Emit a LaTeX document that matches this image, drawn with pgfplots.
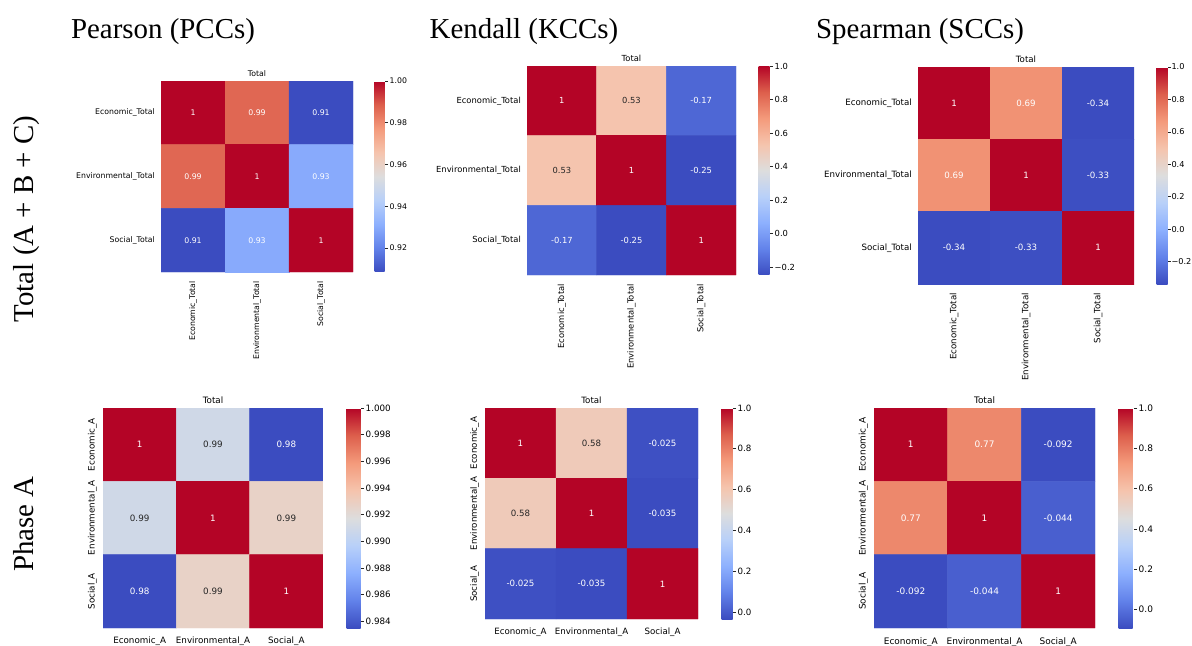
\documentclass[border=0pt]{standalone}
\usepackage{pgfplots}
\pgfplotsset{compat=1.18}
\usepackage{pgfplotstable}
\usepackage{fontspec}
\setmainfont{Liberation Serif}
\newfontfamily\djv{DejaVu Sans}
\definecolor{dk}{RGB}{38,38,38}

% correlation matrices: x = column, y = row, v = coefficient,
% lw / ld = printed value in white / dark text
\pgfplotstableread{
x y v lw ld
0 0 1 1 {}
1 0 0.987 0.99 {}
2 0 0.9085 0.91 {}
0 1 0.987 0.99 {}
1 1 1 1 {}
2 1 0.930 0.93 {}
0 2 0.9085 0.91 {}
1 2 0.930 0.93 {}
2 2 1 1 {}
}\pearsonTotal
\pgfplotstableread{
x y v lw ld
0 0 1 1 {}
1 0 0.53 {} 0.53
2 0 -0.17 -0.17 {}
0 1 0.53 {} 0.53
1 1 1 1 {}
2 1 -0.248 -0.25 {}
0 2 -0.17 -0.17 {}
1 2 -0.248 -0.25 {}
2 2 1 1 {}
}\kendallTotal
\pgfplotstableread{
x y v lw ld
0 0 1 1 {}
1 0 0.69 0.69 {}
2 0 -0.338 -0.34 {}
0 1 0.69 0.69 {}
1 1 1 1 {}
2 1 -0.33 -0.33 {}
0 2 -0.338 -0.34 {}
1 2 -0.33 -0.33 {}
2 2 1 1 {}
}\spearmanTotal
\pgfplotstableread{
x y v lw ld
0 0 1 1 {}
1 0 0.991 {} 0.99
2 0 0.9835 0.98 {}
0 1 0.991 {} 0.99
1 1 1 1 {}
2 1 0.9927 {} 0.99
0 2 0.9835 0.98 {}
1 2 0.9927 {} 0.99
2 2 1 1 {}
}\pearsonA
\pgfplotstableread{
x y v lw ld
0 0 1 1 {}
1 0 0.58 {} 0.58
2 0 -0.025 -0.025 {}
0 1 0.58 {} 0.58
1 1 1 1 {}
2 1 -0.035 -0.035 {}
0 2 -0.025 -0.025 {}
1 2 -0.035 -0.035 {}
2 2 1 1 {}
}\kendallA
\pgfplotstableread{
x y v lw ld
0 0 1 1 {}
1 0 0.77 0.77 {}
2 0 -0.092 -0.092 {}
0 1 0.77 0.77 {}
1 1 1 1 {}
2 1 -0.044 -0.044 {}
0 2 -0.092 -0.092 {}
1 2 -0.044 -0.044 {}
2 2 1 1 {}
}\spearmanA

\pgfplotsset{
  colormap={coolwarm}{rgb255=(59,76,192) rgb255=(98,130,234) rgb255=(141,176,254)
    rgb255=(184,208,249) rgb255=(221,221,221) rgb255=(245,196,173)
    rgb255=(244,154,123) rgb255=(221,95,76) rgb255=(180,4,38)},
  fs/.style={font=\djv\fontsize{#1}{#1}\selectfont,
    tick label style={font=\djv\fontsize{#1}{#1}\selectfont},
    title style={font=\djv\fontsize{#1}{#1}\selectfont},
    every node near coord/.append style={font=\djv\fontsize{#1}{#1}\selectfont}},
  heat/.style={scale only axis, anchor=north west,
    xmin=-0.5, xmax=2.5, ymin=-0.5, ymax=2.5, y dir=reverse,
    enlargelimits=false, xtick={0,1,2}, ytick={0,1,2},
    axis line style={draw=none}, major tick length=0pt,
    title=Total, title style={inner sep=0pt, yshift=-2bp},
    colormap name=coolwarm, colorbar, point meta max=1},
  cbar/.style n args={3}{colorbar style={at={(parent axis.north east)}, anchor=north west,
    xshift=#1, width=#2, fs=#3, axis line style={draw=none},
    tick align=outside, major tick length=3.5bp,
    tick style={draw=dk, line width=0.6pt},
    ytick pos=right, yticklabel pos=right,
    yticklabel style={inner sep=1.5bp}}},
  toprow/.style={
    xticklabels={Economic\_Total,Environmental\_Total,Social\_Total},
    yticklabels={Economic\_Total,Environmental\_Total,Social\_Total},
    yticklabel style={anchor=east, inner sep=0pt}, yticklabel shift=6bp,
    xticklabel style={rotate=90, anchor=east, inner sep=0pt}, xticklabel shift=9bp},
  botrow/.style={
    xticklabels={Economic\_A,Environmental\_A,Social\_A},
    yticklabels={Economic\_A,Environmental\_A,Social\_A},
    yticklabel style={rotate=90, anchor=south, inner sep=0pt}, yticklabel shift=6bp,
    xticklabel style={anchor=north, inner sep=0pt}, xticklabel shift=9bp},
  celltext/.style={only marks, mark=*, mark size=0pt,
    mark options={draw=none, fill=none},
    point meta=explicit symbolic, nodes near coords,
    nodes near coords align=center,
    every node near coord/.append style={text=#1, anchor=center}},
}

% cells coloured by coefficient, then the printed values on top
\newcommand\heatplot[1]{%
  \addplot[matrix plot*, mesh/cols=3, point meta=explicit]
    table[x=x, y=y, meta=v]{#1};
  \addplot[celltext=white] table[x=x, y=y, meta=lw]{#1};
  \addplot[celltext=dk] table[x=x, y=y, meta=ld]{#1};}

\begin{document}
\begin{tikzpicture}
\useasboundingbox (0,0) rectangle (1192bp,-646bp);

% column and row headings
\node[font=\fontsize{29}{30}\selectfont, anchor=base] at (163bp,-38bp) {Pearson (PCCs)};
\node[font=\fontsize{29}{30}\selectfont, anchor=base] at (524bp,-38bp) {Kendall (KCCs)};
\node[font=\fontsize{29}{30}\selectfont, anchor=base] at (920bp,-38bp) {Spearman (SCCs)};
\node[font=\fontsize{29}{30}\selectfont, anchor=base, rotate=90] at (33bp,-219bp) {Total (A + B + C)};
\node[font=\fontsize{29}{30}\selectfont, anchor=base, rotate=90] at (33bp,-524bp) {Phase A};

% Pearson, total
\begin{axis}[heat, toprow, fs=7.8, at={(161bp,-81bp)}, width=192bp, height=191bp,
  point meta min=0.9085,
  cbar={13bp}{10bp}{7.8},
  colorbar style={ytick={0.92,0.94,0.96,0.98,1.00},
    yticklabels={0.92,0.94,0.96,0.98,1.00}}]
\heatplot{\pearsonTotal}
\end{axis}

% Kendall, total
\begin{axis}[heat, toprow, fs=8.4, at={(527bp,-66bp)}, width=209bp, height=209bp,
  point meta min=-0.248,
  cbar={14bp}{11bp}{8.4},
  colorbar style={ytick={-0.2,0,0.2,0.4,0.6,0.8,1},
    yticklabels={−0.2,0.0,0.2,0.4,0.6,0.8,1.0}}]
\heatplot{\kendallTotal}
\end{axis}

% Spearman, total
\begin{axis}[heat, toprow, fs=8.7, at={(918bp,-67bp)}, width=216bp, height=217bp,
  point meta min=-0.338,
  cbar={14bp}{11bp}{8.2},
  colorbar style={major tick length=3bp, yticklabel style={inner sep=0.8bp},
    ytick={-0.2,0,0.2,0.4,0.6,0.8,1},
    yticklabels={−0.2,0.0,0.2,0.4,0.6,0.8,1.0}}]
\heatplot{\spearmanTotal}
\end{axis}

% Pearson, phase A
\begin{axis}[heat, botrow, fs=8.8, at={(103bp,-408bp)}, width=220bp, height=220bp,
  point meta min=0.9835,
  cbar={15bp}{14bp}{8.8},
  colorbar style={ytick={0.984,0.986,0.988,0.990,0.992,0.994,0.996,0.998,1.000},
    yticklabels={0.984,0.986,0.988,0.990,0.992,0.994,0.996,0.998,1.000}}]
\heatplot{\pearsonA}
\end{axis}

% Kendall, phase A
\begin{axis}[heat, botrow, fs=8.7, at={(485bp,-408bp)}, width=213bp, height=211bp,
  point meta min=-0.035,
  cbar={15bp}{11bp}{8.7},
  colorbar style={ytick={0,0.2,0.4,0.6,0.8,1},
    yticklabels={0.0,0.2,0.4,0.6,0.8,1.0}}]
\heatplot{\kendallA}
\end{axis}

% Spearman, phase A
\begin{axis}[heat, botrow, fs=9.0, at={(874bp,-408bp)}, width=221bp, height=220bp,
  point meta min=-0.092,
  cbar={15bp}{15bp}{9.0},
  colorbar style={ytick={0,0.2,0.4,0.6,0.8,1},
    yticklabels={0.0,0.2,0.4,0.6,0.8,1.0}}]
\heatplot{\spearmanA}
\end{axis}
\end{tikzpicture}
\end{document}
